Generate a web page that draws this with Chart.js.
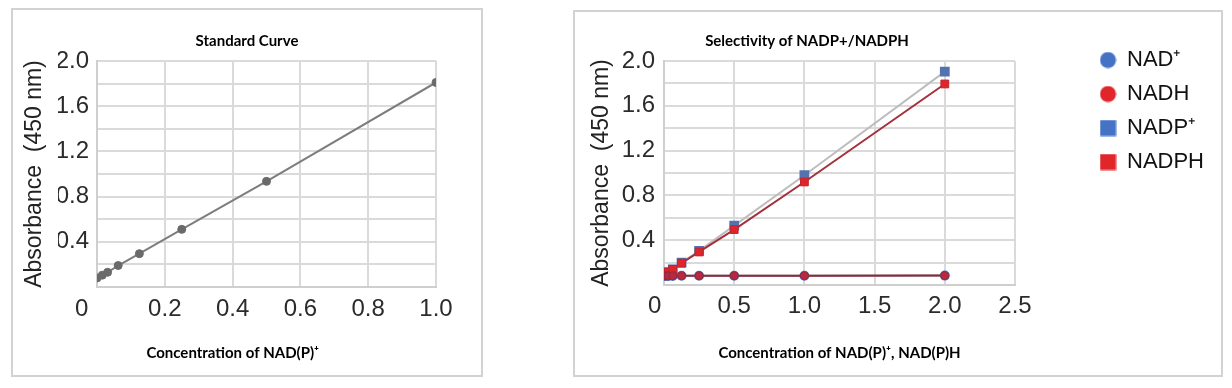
<!DOCTYPE html>
<html><head><meta charset="utf-8">
<script src="https://cdn.jsdelivr.net/npm/chart.js@4.4.1/dist/chart.umd.min.js"></script>
<style>
html,body{margin:0;padding:0;background:#fff;width:1232px;height:388px;overflow:hidden;}
.panel{position:absolute;border:2px solid #d2d2d2;box-sizing:border-box;}
canvas{position:absolute;top:0;}
</style></head><body>
<div class="panel" style="left:11px;top:8px;width:472px;height:369px"></div>
<div class="panel" style="left:573px;top:10px;width:650px;height:367px"></div>
<canvas id="c1" width="490" height="388" style="left:0px"></canvas>
<canvas id="c2" width="850" height="388" style="left:382px"></canvas>
<script>
// ---- data ----
const stdConc = [0, 0.0156, 0.03125, 0.0625, 0.125, 0.25, 0.5, 1.0];
const stdAbs  = [0.08, 0.105, 0.13, 0.19, 0.295, 0.51, 0.935, 1.81];

const selConc = [0, 0.0156, 0.03125, 0.0625, 0.125, 0.25, 0.5, 1.0, 2.0];
const nadPlus = [0.08, 0.08, 0.08, 0.081, 0.082, 0.082, 0.082, 0.083, 0.084];
const nadh    = [0.082, 0.082, 0.082, 0.083, 0.083, 0.083, 0.083, 0.083, 0.084];
const nadpPlus= [0.085, 0.10, 0.115, 0.14, 0.20, 0.305, 0.53, 0.98, 1.905];
const nadph   = [0.085, 0.10, 0.115, 0.14, 0.195, 0.295, 0.495, 0.92, 1.795];

const seriesNames = ['NAD\u207A', 'NADH', 'NADP\u207A', 'NADPH'];

const xTicksStd = ['0', '0.2', '0.4', '0.6', '0.8', '1.0'];
const xTicksSel = ['0', '0.5', '1.0', '1.5', '2.0', '2.5'];
const yTickLabels = ['0.4', '0.8', '1.2', '1.6', '2.0'];

const titleStd = 'Standard Curve';
const titleSel = 'Selectivity of NADP+/NADPH';
const xTitleStd = 'Concentration of NAD(P)\u207A';
const xTitleSel = 'Concentration of NAD(P)\u207A, NAD(P)H';
const yTitle = 'Absorbance  (450 nm)';

// ---- helpers ----
const pts = (xs, ys) => xs.map((x, i) => ({x, y: ys[i]}));
const tickFont = {family: "'Liberation Sans', Arial, sans-serif", size: 24};
const yTitleFont = {family: "'Liberation Sans', Arial, sans-serif", size: 23};
const boldFont = {family: "Lato, 'Open Sans', sans-serif", size: 15, weight: 'bold'};
const gridCfg = {color: '#dadada', lineWidth: 2, drawTicks: false};
const borderCfg = {display: true, color: '#cfcfcf', width: 2};
const yCallback = (v) => { const s = Number(v).toFixed(1); return yTickLabels.includes(s) ? s : ''; };
const xCallback = (labels, zeroPad) => (v) => {
  const l = labels.find(t => Math.abs(parseFloat(t) - v) < 1e-6);
  if (l === undefined) return '';
  return parseFloat(l) === 0 ? l + zeroPad : l;
};

Chart.defaults.animation = false;

// ---- left chart ----
new Chart(document.getElementById('c1'), {
  type: 'scatter',
  data: {datasets: [{
    label: 'Standard',
    data: pts(stdConc, stdAbs),
    showLine: true,
    borderColor: '#7d7d7d', borderWidth: 2,
    pointRadius: 4, pointBackgroundColor: '#6a6a6a', pointBorderColor: '#6a6a6a', pointBorderWidth: 1
  }]},
  options: {
    responsive: false, devicePixelRatio: 1, animation: false,
    layout: {padding: {left: 58, right: 54, top: 0, bottom: 0}},
    plugins: {
      legend: {display: false}, tooltip: {enabled: false},
      title: {display: true, text: titleStd, font: boldFont, color: '#000', padding: {top: 32, bottom: 11}}
    },
    scales: {
      x: {type: 'linear', min: 0, max: 1,
        ticks: {stepSize: 0.2, autoSkip: false, maxRotation: 0, padding: 8, font: tickFont, color: '#2b2b2b',
                callback: xCallback(xTicksStd, '\u2002\u2002 ')},
        grid: gridCfg, border: borderCfg,
        title: {display: true, text: xTitleStd + '\u2003\u2003\u2003\u2003\u2003\u2003', font: boldFont, color: '#000', padding: {top: 0, bottom: 26}},
        afterFit(s) { s.height = 101; }
      },
      y: {type: 'linear', min: 0, max: 2,
        ticks: {stepSize: 0.2, autoSkip: false, padding: 8, font: tickFont, color: '#2b2b2b', callback: yCallback},
        grid: gridCfg, border: borderCfg,
        title: {display: true, text: yTitle, font: yTitleFont, color: '#222', padding: {top: -36.8, bottom: 0}},
        afterFit(s) { s.width = 39; }
      }
    }
  }
});

// ---- right chart ----
const iconColors = ['#4472c4', '#e0262a', '#4472c4', '#e0262a'];
const iconShapes = ['circle', 'circle', 'square', 'square'];
function makeIcon(shape, color) {
  const c = document.createElement('canvas'); c.width = 17; c.height = 17;
  const g = c.getContext('2d'); g.fillStyle = color;
  if (shape === 'circle') { g.beginPath(); g.arc(8.5, 8.5, 8, 0, Math.PI * 2); g.fill(); }
  else { g.fillRect(0.5, 0.5, 16, 16); }
  return c;
}
const legendIcons = iconShapes.map((s, i) => makeIcon(s, iconColors[i]));

const LEG_X = 706, LEG_Y = 37, LEG_W = 217;
const legendPlace = {
  id: 'legendPlace',
  beforeLayout(chart) {
    const lg = chart.legend;
    if (lg && !lg._patched) {
      const f = lg.fit;
      lg.fit = function () { f.call(this); this.width = LEG_W; };
      lg._patched = true;
    }
  },
  afterLayout(chart) {
    const lg = chart.legend; if (!lg) return;
    const w = lg.width, h = lg.height;
    lg.left = LEG_X; lg.right = LEG_X + w; lg.top = LEG_Y; lg.bottom = LEG_Y + h;
  }
};

const chart2 = new Chart(document.getElementById('c2'), {
  type: 'scatter',
  data: {datasets: [
    {label: seriesNames[0], data: pts(selConc, nadPlus), showLine: true, order: 2,
     borderColor: '#8a8a9a', borderWidth: 2, pointStyle: 'circle', pointRadius: 4,
     pointBackgroundColor: '#4472c4', pointBorderColor: '#4472c4'},
    {label: seriesNames[1], data: pts(selConc, nadh), showLine: true, order: 0,
     borderColor: '#8c2b3d', borderWidth: 2, pointStyle: 'circle', pointRadius: 4,
     pointBackgroundColor: '#b8283e', pointBorderColor: '#96283a', pointBorderWidth: 1},
    {label: seriesNames[2], data: pts(selConc, nadpPlus), showLine: true, order: 3,
     borderColor: '#bdbdbd', borderWidth: 2, pointStyle: 'rect', pointRadius: 5.5,
     pointBackgroundColor: '#5572b0', pointBorderColor: '#5572b0'},
    {label: seriesNames[3], data: pts(selConc, nadph), showLine: true, order: 1,
     borderColor: '#a3303c', borderWidth: 2, pointStyle: 'rect', pointRadius: 5.5,
     pointBackgroundColor: '#de252b', pointBorderColor: '#c0262e', pointBorderWidth: 1}
  ]},
  options: {
    responsive: false, devicePixelRatio: 1, animation: false,
    layout: {padding: 0},
    plugins: {
      tooltip: {enabled: false},
      title: {display: true, text: titleSel, font: boldFont, color: '#000', padding: {top: 32, bottom: 11}},
      legend: {display: true, position: 'right', align: 'start',
        labels: {font: {family: "'Liberation Sans', Arial, sans-serif", size: 22}, color: '#111',
                 usePointStyle: true, boxWidth: 16, boxHeight: 16, padding: 12,
                 generateLabels(chart) {
                   const items = Chart.defaults.plugins.legend.labels.generateLabels(chart);
                   items.sort((a, b) => a.datasetIndex - b.datasetIndex);
                   items.forEach((it) => { it.pointStyle = legendIcons[it.datasetIndex]; });
                   return items;
                 }}}
    },
    scales: {
      x: {type: 'linear', min: 0, max: 2.5,
        ticks: {stepSize: 0.5, autoSkip: false, maxRotation: 0, padding: 7, font: tickFont, color: '#2b2b2b',
                callback: xCallback(xTicksSel, '\u2002 ')},
        grid: gridCfg, border: borderCfg,
        title: {display: true, text: xTitleSel, font: boldFont, color: '#000', padding: {top: 0, bottom: 26}},
        afterFit(s) { s.height = 103; }
      },
      y: {type: 'linear', min: 0, max: 2,
        ticks: {stepSize: 0.2, autoSkip: false, padding: 9, font: tickFont, color: '#2b2b2b', callback: yCallback},
        grid: gridCfg, border: borderCfg,
        title: {display: true, text: yTitle, font: yTitleFont, color: '#222', padding: {top: 206, bottom: 0}},
        afterFit(s) { s.width = 282; }
      }
    }
  },
  plugins: [legendPlace]
});
chart2.update('none');
</script>
</body></html>
